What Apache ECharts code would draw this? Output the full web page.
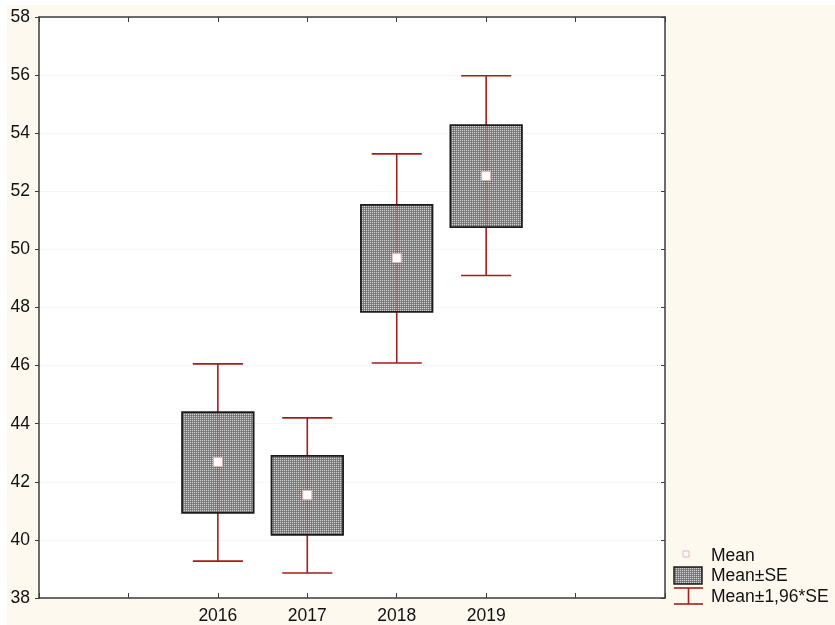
<!DOCTYPE html>
<html>
<head>
<meta charset="utf-8">
<title>Mean, SE and 95% interval by year</title>
<script src="https://cdn.jsdelivr.net/npm/echarts@6/dist/echarts.min.js"></script>
<style>
  html, body { margin: 0; padding: 0; background: #ffffff; }
  #chart { width: 835px; height: 625px; }
</style>
</head>
<body>
<div id="chart"></div>
<script>
// Tick labels along the x axis (one per integer position 0..7)
const xTickLabels = ['', '', '2016', '2017', '2018', '2019', '', ''];
// Groups
const years = ['2016', '2017', '2018', '2019'];
// Group means
const means = [42.68, 41.55, 49.70, 52.53];
// Mean - SE / Mean + SE
const seLow = [40.93, 40.17, 47.85, 50.77];
const seHigh = [44.40, 42.89, 51.53, 54.28];
// Mean - 1.96*SE / Mean + 1.96*SE
const ciLow = [39.27, 38.86, 46.09, 49.10];
const ciHigh = [46.06, 44.20, 53.29, 55.98];
// Y axis range
const yMin = 38, yMax = 58, yStep = 2;

const FONT = 'Arial, "Liberation Sans", sans-serif';
const FONT_SIZE = 17.5;
const WHISKER = '#a31d1d';
const AXIS = '#3c3c3c';

// Fine dotted grey texture for the SE boxes
function makeTexture() {
  const c = document.createElement('canvas');
  c.width = 2; c.height = 2;
  const g = c.getContext('2d');
  g.fillStyle = '#d2d2d2'; g.fillRect(0, 0, 1, 1);
  g.fillStyle = '#848484'; g.fillRect(1, 0, 1, 1);
  g.fillStyle = '#848484'; g.fillRect(0, 1, 1, 1);
  g.fillStyle = '#6c6c6c'; g.fillRect(1, 1, 1, 1);
  return { image: c, repeat: 'repeat' };
}
const texture = makeTexture();

const boxData = years.map((y, i) => [xTickLabels.indexOf(y), means[i], seLow[i], seHigh[i], ciLow[i], ciHigh[i]]);
const meanData = years.map((y, i) => [xTickLabels.indexOf(y), means[i]]);

function renderBox(params, api) {
  const x = api.value(0);
  const slot = api.size([1, 0])[0];
  const boxW = slot * 0.8;
  const capW = slot * 0.56;
  const pMean = api.coord([x, api.value(1)]);
  const pSeLo = api.coord([x, api.value(2)]);
  const pSeHi = api.coord([x, api.value(3)]);
  const pCiLo = api.coord([x, api.value(4)]);
  const pCiHi = api.coord([x, api.value(5)]);
  const cx = pMean[0];
  const wStyle = { stroke: WHISKER, lineWidth: 1.6 };
  return {
    type: 'group',
    children: [
      { type: 'line', shape: { x1: cx, y1: pCiHi[1], x2: cx, y2: pSeHi[1] }, style: wStyle },
      { type: 'line', shape: { x1: cx, y1: pSeLo[1], x2: cx, y2: pCiLo[1] }, style: wStyle },
      { type: 'line', shape: { x1: cx - capW / 2, y1: pCiHi[1], x2: cx + capW / 2, y2: pCiHi[1] }, style: wStyle },
      { type: 'line', shape: { x1: cx - capW / 2, y1: pCiLo[1], x2: cx + capW / 2, y2: pCiLo[1] }, style: wStyle },
      {
        type: 'rect',
        shape: { x: cx - boxW / 2, y: pSeHi[1], width: boxW, height: pSeLo[1] - pSeHi[1] },
        style: { fill: texture, stroke: '#1c1c1c', lineWidth: 1.8 }
      },
      { type: 'line', shape: { x1: cx, y1: pSeHi[1], x2: cx, y2: pSeLo[1] }, style: { stroke: WHISKER, lineWidth: 1.2, opacity: 0.25 } }
    ]
  };
}

const chart = echarts.init(document.getElementById('chart'), null, { renderer: 'canvas' });

const gridLeft = 39, gridTop = 17, gridW = 626, gridH = 581;

chart.setOption({
  backgroundColor: '#ffffff',
  animation: false,
  textStyle: { fontFamily: FONT },
  grid: {
    left: gridLeft, top: gridTop, width: gridW, height: gridH,
    show: true, backgroundColor: '#ffffff', borderWidth: 0
  },
  xAxis: [
    {
      type: 'value', min: 0, max: 7, interval: 1, position: 'bottom',
      axisLine: { show: true, onZero: false, lineStyle: { color: AXIS, width: 1.5 } },
      axisTick: { show: true, inside: true, length: 5, lineStyle: { color: AXIS, width: 1 } },
      axisLabel: { formatter: v => xTickLabels[v] || '', fontSize: FONT_SIZE, color: '#111', margin: 9, fontFamily: FONT },
      splitLine: { show: false }
    },
    {
      type: 'value', min: 0, max: 7, interval: 1, position: 'top',
      axisLine: { show: true, onZero: false, lineStyle: { color: AXIS, width: 1.5 } },
      axisTick: { show: true, inside: true, length: 5, lineStyle: { color: AXIS, width: 1 } },
      axisLabel: { show: false },
      splitLine: { show: false }
    }
  ],
  yAxis: [
    {
      type: 'value', min: yMin, max: yMax, interval: yStep, position: 'left',
      axisLine: { show: true, onZero: false, lineStyle: { color: AXIS, width: 1.5 } },
      axisTick: { show: true, inside: false, length: 4, lineStyle: { color: AXIS, width: 1 } },
      axisLabel: { fontSize: FONT_SIZE, color: '#111', margin: 9, fontFamily: FONT },
      splitLine: { show: true, lineStyle: { color: '#efefef', type: 'dotted', width: 1 } }
    },
    {
      type: 'value', min: yMin, max: yMax, interval: yStep, position: 'right',
      axisLine: { show: true, onZero: false, lineStyle: { color: AXIS, width: 1.5 } },
      axisTick: { show: true, inside: true, length: 4, lineStyle: { color: AXIS, width: 1 } },
      axisLabel: { show: false },
      splitLine: { show: false }
    }
  ],
  series: [
    {
      name: 'Mean±SE',
      type: 'custom',
      xAxisIndex: 0, yAxisIndex: 0,
      renderItem: renderBox,
      encode: { x: 0, y: [1, 2, 3, 4, 5] },
      data: boxData,
      z: 2
    },
    {
      name: 'Mean',
      type: 'scatter',
      xAxisIndex: 0, yAxisIndex: 0,
      symbol: 'rect',
      symbolSize: 9,
      itemStyle: { color: '#ffffff', borderColor: '#e2b4b4', borderWidth: 1, opacity: 1 },
      data: meanData,
      z: 5
    }
  ],
  graphic: [
    // Cream page panel behind the plot
    { type: 'rect', z: -10, silent: true, shape: { x: 7, y: 5, width: 828, height: 620 }, style: { fill: '#fef9ee' } },
    // Legend: Mean
    { type: 'rect', z: 10, shape: { x: 683, y: 551, width: 6, height: 6 }, style: { fill: '#ffffff', stroke: '#e2b4b4', lineWidth: 1 } },
    { type: 'text', z: 10, style: { x: 711, y: 556, text: 'Mean', fontSize: FONT_SIZE, fontFamily: FONT, fill: '#111', verticalAlign: 'middle' } },
    // Legend: Mean±SE
    { type: 'rect', z: 10, shape: { x: 674, y: 567, width: 28, height: 17 }, style: { fill: texture, stroke: '#1c1c1c', lineWidth: 1.5 } },
    { type: 'text', z: 10, style: { x: 711, y: 576, text: 'Mean±SE', fontSize: FONT_SIZE, fontFamily: FONT, fill: '#111', verticalAlign: 'middle' } },
    // Legend: Mean±1,96*SE
    { type: 'line', z: 10, shape: { x1: 674, y1: 588, x2: 703, y2: 588 }, style: { stroke: WHISKER, lineWidth: 1.6 } },
    { type: 'line', z: 10, shape: { x1: 674, y1: 604, x2: 703, y2: 604 }, style: { stroke: WHISKER, lineWidth: 1.6 } },
    { type: 'line', z: 10, shape: { x1: 688.5, y1: 588, x2: 688.5, y2: 604 }, style: { stroke: WHISKER, lineWidth: 1.6 } },
    { type: 'text', z: 10, style: { x: 711, y: 597, text: 'Mean±1,96*SE', fontSize: FONT_SIZE, fontFamily: FONT, fill: '#111', verticalAlign: 'middle' } }
  ]
});
</script>
</body>
</html>
